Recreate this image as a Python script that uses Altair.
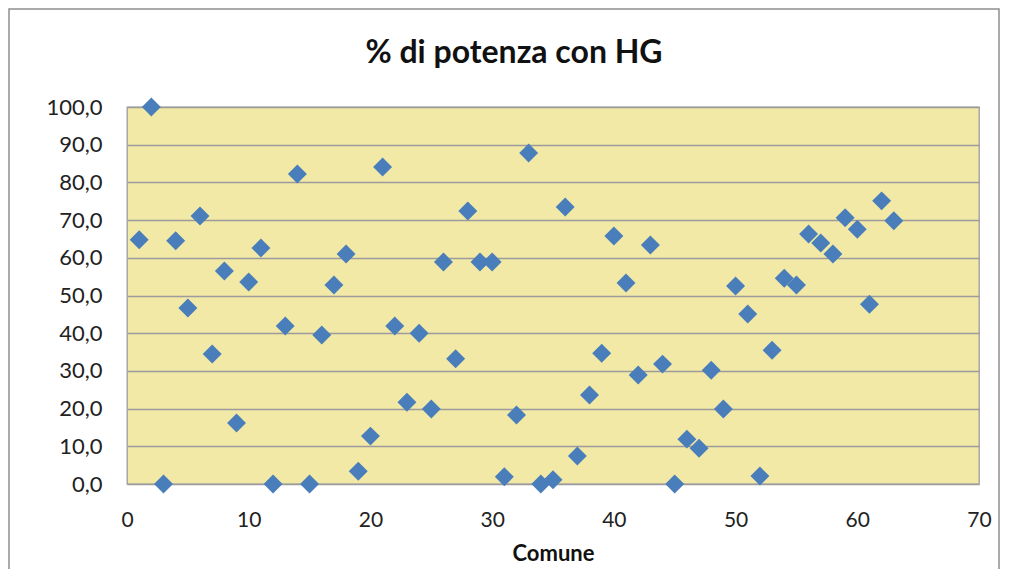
import altair as alt
import pandas as pd

comune = list(range(1, 64))
potenza_hg = [
    64.8, 100.0, 0.0, 64.5, 46.7, 71.1, 34.5, 56.5, 16.2, 53.6,
    62.6, 0.0, 41.9, 82.2, 0.0, 39.5, 52.8, 61.0, 3.4, 12.7,
    84.1, 41.9, 21.7, 40.0, 19.9, 58.9, 33.2, 72.4, 58.9, 58.9,
    1.9, 18.3, 87.8, 0.0, 1.1, 73.5, 7.4, 23.6, 34.7, 65.8,
    53.3, 28.9, 63.4, 31.8, 0.0, 11.9, 9.5, 30.2, 19.9, 52.5,
    45.1, 2.1, 35.5, 54.6, 52.8, 66.3, 63.9, 61.0, 70.6, 67.6,
    47.7, 75.1, 69.8,
]
title_text = ["% di potenza con HG"]
x_title = "Comune"

df = pd.DataFrame({"Comune": comune, "Potenza": potenza_hg})

FONT = "Lato"
W, H = 852, 377

points = alt.Chart(df).mark_point(
    shape="diamond", filled=True, size=360, color="#4A7EBB", opacity=1, clip=False
).encode(
    x=alt.X("Comune:Q", scale=alt.Scale(domain=[0, 70], nice=False, zero=True),
            axis=alt.Axis(values=[0, 10, 20, 30, 40, 50, 60, 70], title=x_title,
                          grid=False, domain=False, ticks=False, labelFlush=False,
                          labelFont=FONT, labelFontSize=21, labelColor="#222222",
                          labelPadding=25, titleFont=FONT, titleFontSize=22,
                          titleFontWeight="bold", titleColor="#111111", titlePadding=13)),
    y=alt.Y("Potenza:Q", scale=alt.Scale(domain=[0, 100], nice=False),
            axis=alt.Axis(values=[0, 10, 20, 30, 40, 50, 60, 70, 80, 90, 100], title=None,
                          grid=True, gridColor="#9C9C9C", gridWidth=1.3,
                          domain=False, ticks=False, labelFlush=False,
                          labelFont=FONT, labelFontSize=22, labelColor="#222222",
                          labelPadding=25,
                          labelExpr="replace(format(datum.value, '.1f'), '.', ',')")),
)

frame = alt.Chart(pd.DataFrame({"a": [0]})).mark_rect(
    fill="transparent", fillOpacity=0, stroke="#8E8E8E", strokeWidth=1.5, clip=False
).encode(
    x=alt.value(-118), x2=alt.value(872), y=alt.value(-98), y2=alt.value(480)
)

title = alt.Chart(pd.DataFrame({"t": title_text})).mark_text(
    font=FONT, fontSize=32, fontWeight="bold", color="#111111",
    align="center", baseline="middle", clip=False
).encode(
    text="t:N", x=alt.value(387), y=alt.value(-54)
)

chart = alt.layer(frame, points, title).properties(
    width=W, height=H,
    background="white",
    autosize=alt.AutoSizeParams(type="none"),
    padding={"left": 119, "top": 99, "right": 22, "bottom": 85},
).configure_view(
    fill="#F2E9A6", stroke="#9C9C9C", strokeWidth=1.3
)

chart.save("out.html", embed_options={"renderer": "svg", "actions": False})
